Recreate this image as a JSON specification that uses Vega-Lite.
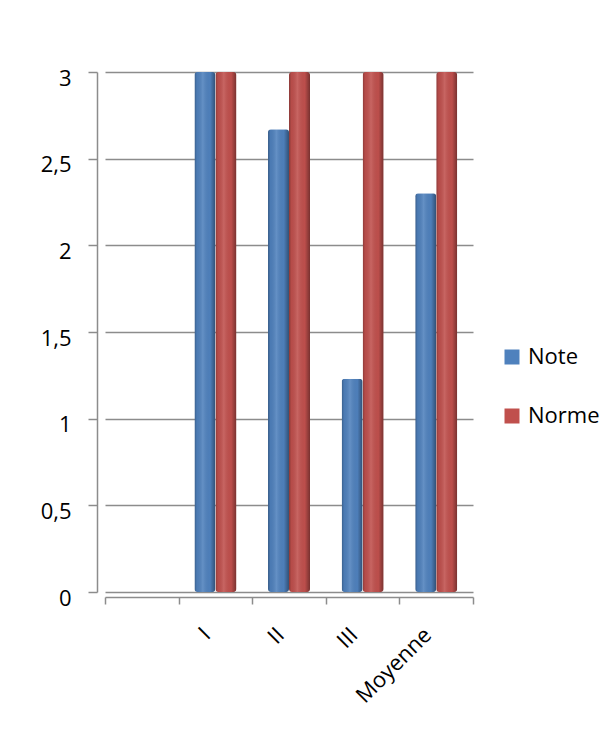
{
  "$schema": "https://vega.github.io/schema/vega-lite/v6.json",
  "autosize": "none",
  "width": 368,
  "height": 520,
  "padding": {"left": 105, "top": 72, "right": 136, "bottom": 152},
  "background": "white",
  "config": {
    "view": {"stroke": null},
    "font": "Open Sans",
    "axis": {"labelFont": "Open Sans", "labelColor": "#000000", "labelFontSize": 22, "domainColor": "#8c8c8c", "tickColor": "#8c8c8c", "gridColor": "#8c8c8c", "domainWidth": 1.5, "tickWidth": 1.5, "gridWidth": 1.5}
  },
  "data": {
    "values": [
      {"categorie": "I", "serie": "Note", "valeur": 3},
      {"categorie": "I", "serie": "Norme", "valeur": 3},
      {"categorie": "II", "serie": "Note", "valeur": 2.67},
      {"categorie": "II", "serie": "Norme", "valeur": 3},
      {"categorie": "III", "serie": "Note", "valeur": 1.23},
      {"categorie": "III", "serie": "Norme", "valeur": 3},
      {"categorie": "Moyenne", "serie": "Note", "valeur": 2.3},
      {"categorie": "Moyenne", "serie": "Norme", "valeur": 3}
    ]
  },
  "encoding": {
    "x": {
      "field": "categorie",
      "type": "nominal",
      "sort": null,
      "scale": {"domain": [" ", "I", "II", "III", "Moyenne"], "paddingInner": 0, "paddingOuter": 0},
      "axis": {"title": null, "labelAngle": -45, "tickBand": "extent", "tickSize": 7, "offset": 5, "labelOffset": -16, "labelPadding": 20}
    },
    "xOffset": {"field": "serie", "type": "nominal", "scale": {"domain": ["Note", "Norme"], "paddingInner": 0, "paddingOuter": 0.752}},
    "y": {
      "field": "valeur",
      "type": "quantitative",
      "scale": {"domain": [0, 3], "nice": false},
      "axis": {"title": null, "values": [0, 0.5, 1, 1.5, 2, 2.5, 3], "format": ".1~f", "offset": 8, "tickSize": 9, "labelPadding": 17, "labelOffset": 6, "labelExpr": "replace(datum.label, '.', ',')", "grid": true}
    }
  },
  "layer": [
    {
      "mark": {"type": "bar", "cornerRadius": 3},
      "encoding": {
        "color": {
          "field": "serie",
          "type": "nominal",
          "scale": {"domain": ["Note", "Norme"], "range": ["#4F81BD", "#C0504D"]},
          "legend": {"title": null, "orient": "none", "legendX": 396, "legendY": 274, "symbolType": "square", "symbolSize": 225, "symbolStrokeWidth": 0, "labelFont": "Open Sans", "labelFontSize": 22, "labelColor": "#000000", "rowPadding": 37, "labelOffset": 5}
        }
      }
    },
    {
      "mark": {
        "type": "bar",
        "cornerRadius": 3,
        "fill": {
          "gradient": "linear", "x1": 0, "y1": 0, "x2": 1, "y2": 0,
          "stops": [
            {"offset": 0, "color": "rgba(0,0,0,0.28)"},
            {"offset": 0.12, "color": "rgba(0,0,0,0.05)"},
            {"offset": 0.4, "color": "rgba(255,255,255,0.12)"},
            {"offset": 0.75, "color": "rgba(0,0,0,0.02)"},
            {"offset": 1, "color": "rgba(0,0,0,0.38)"}
          ]
        }
      }
    }
  ]
}
